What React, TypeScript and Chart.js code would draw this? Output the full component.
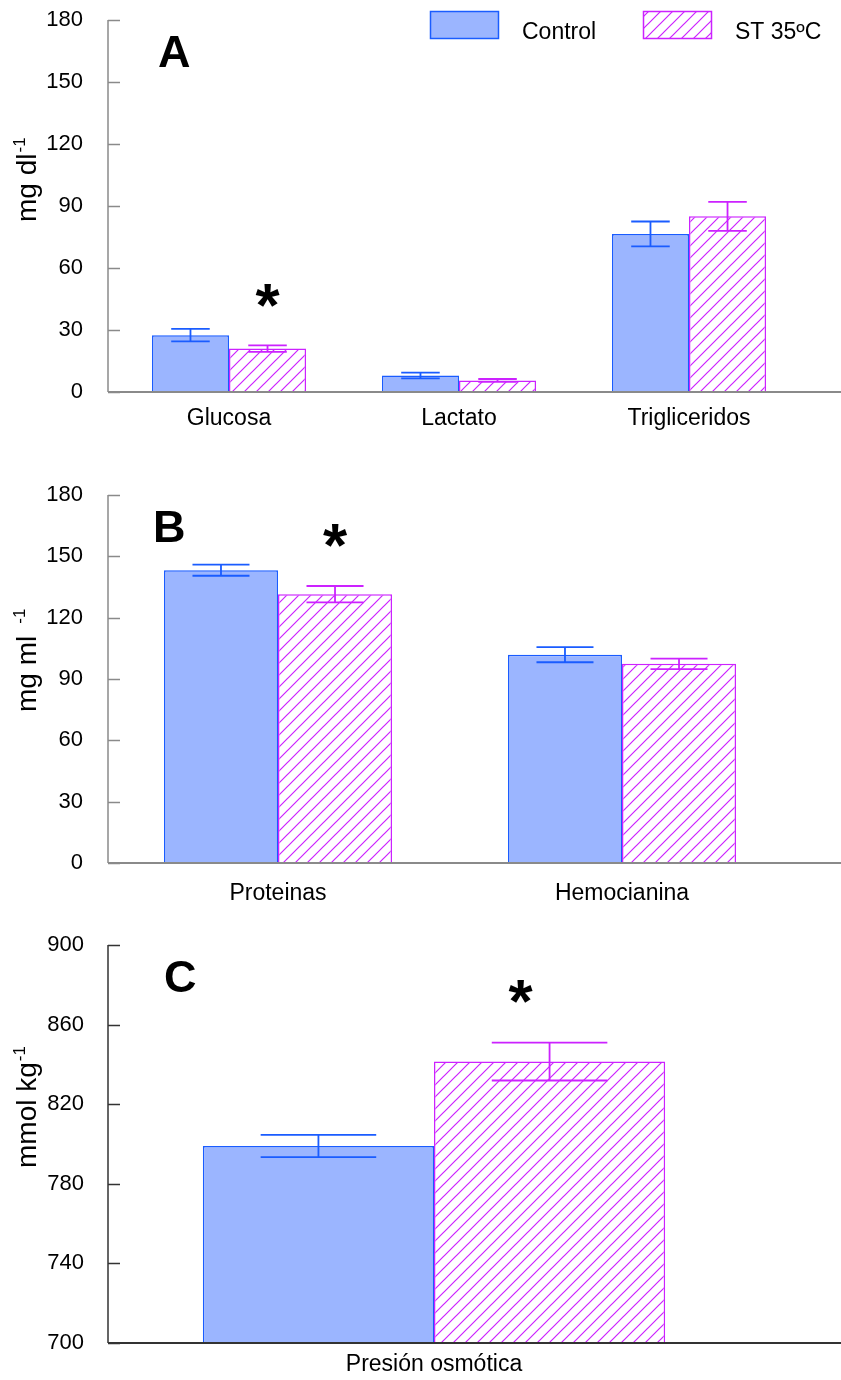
import React, { useEffect, useRef } from 'react';
import { Chart, registerables } from 'chart.js';
Chart.register(...registerables);

const FONT = "'Liberation Sans', Arial, Helvetica, sans-serif";
Chart.defaults.font.family = FONT;

// ---------- data ----------
const seriesNames = ['Control', 'ST 35ºC'];

const catsA = ['Glucosa', 'Lactato', 'Trigliceridos'];
const controlA = [27.5, 8.0, 76.5];
const controlErrA = [3.0, 1.4, 6.0];
const stA = [21.0, 5.6, 85.0];
const stErrA = [1.6, 0.7, 7.0];

const catsB = ['Proteinas', 'Hemocianina'];
const controlB = [143.2, 101.9];
const controlErrB = [2.7, 3.7];
const stB = [131.5, 97.4];
const stErrB = [4.0, 2.6];

const catsC = ['Presión osmótica'];
const controlC = [799.0];
const controlErrC = [5.6];
const stC = [841.4];
const stErrC = [9.5];

// ---------- styles ----------
const CTRL_FILL = '#9bb5ff';
const CTRL_LINE = '#1a5cff';
const ST_LINE = '#cc22ff';
const W = 841;

function makeHatch(): CanvasPattern | string {
  const s = 12;
  const c = document.createElement('canvas');
  c.width = s; c.height = s;
  const g = c.getContext('2d');
  if (!g) return '#fff';
  g.fillStyle = '#ffffff';
  g.fillRect(0, 0, s, s);
  g.strokeStyle = ST_LINE;
  g.lineWidth = 1.2;
  g.beginPath();
  g.moveTo(-1, s + 1); g.lineTo(s + 1, -1);
  g.moveTo(-2, 2); g.lineTo(2, -2);
  g.moveTo(s - 2, s + 2); g.lineTo(s + 2, s - 2);
  g.stroke();
  return g.createPattern(c, 'repeat') || '#fff';
}

interface PanelDef {
  top: number; h: number;
  cats: string[]; ctrl: number[]; ctrlErr: number[]; st: number[]; stErr: number[];
  yMin: number; yMax: number; yStep: number;
  plotLeft: number; plotRight: number; plotTop: number; plotBottom: number;
  axisX: number; axisColor: string; catPct: number;
  yPad: number; xPad: number;
  letter: string; letterX: number; letterY: number;
  star: { idx: number; value: number; dx: number };
  title: string; sup: string; titleX: number; titleY: number; supGap: number;
  legend: boolean;
}

const panels: PanelDef[] = [
  {
    top: 0, h: 450, cats: catsA, ctrl: controlA, ctrlErr: controlErrA, st: stA, stErr: stErrA,
    yMin: 0, yMax: 180, yStep: 30,
    plotLeft: 114, plotRight: 804, plotTop: 20, plotBottom: 392,
    axisX: 108, axisColor: '#8a8a8a', catPct: 0.67, yPad: 31, xPad: 13,
    letter: 'A', letterX: 158, letterY: 67,
    star: { idx: 0, value: 48.4, dx: 0 },
    title: 'mg dl', sup: '-1', titleX: 36, titleY: 222, supGap: 1,
    legend: true,
  },
  {
    top: 450, h: 470, cats: catsB, ctrl: controlB, ctrlErr: controlErrB, st: stB, stErr: stErrB,
    yMin: 0, yMax: 180, yStep: 30,
    plotLeft: 106, plotRight: 794, plotTop: 45, plotBottom: 413,
    axisX: 108, axisColor: '#8a8a8a', catPct: 0.663, yPad: 23, xPad: 17,
    letter: 'B', letterX: 153, letterY: 92,
    star: { idx: 0, value: 161.9, dx: 0 },
    title: 'mg ml', sup: '-1', titleX: 36, titleY: 262, supGap: 12,
    legend: false,
  },
  {
    top: 920, h: 460, cats: catsC, ctrl: controlC, ctrlErr: controlErrC, st: stC, stErr: stErrC,
    yMin: 700, yMax: 900, yStep: 40,
    plotLeft: 108, plotRight: 760, plotTop: 25, plotBottom: 423,
    axisX: 108, axisColor: '#333333', catPct: 0.709, yPad: 24, xPad: 8,
    letter: 'C', letterX: 164, letterY: 72,
    star: { idx: 0, value: 878.5, dx: -29 },
    title: 'mmol kg', sup: '-1', titleX: 36, titleY: 248, supGap: 1,
    legend: false,
  },
];

function decorPlugin(p: PanelDef, hatch: CanvasPattern | string) {
  return {
    id: 'decor' + p.letter,
    afterDatasetsDraw(chart: any) {
      const ctx: CanvasRenderingContext2D = chart.ctx;
      const ys = chart.scales.y;
      // error bars
      const errSets: [number[], string][] = [[p.ctrlErr, CTRL_LINE], [p.stErr, ST_LINE]];
      errSets.forEach(([errs, col], di) => {
        const meta = chart.getDatasetMeta(di);
        const vals = chart.data.datasets[di].data as number[];
        meta.data.forEach((el: any, j: number) => {
          const x = el.x;
          const half = el.width / 4;
          const yt = ys.getPixelForValue(vals[j] + errs[j]);
          const yb = ys.getPixelForValue(vals[j] - errs[j]);
          ctx.save();
          ctx.strokeStyle = col;
          ctx.lineWidth = 1.8;
          ctx.beginPath();
          ctx.moveTo(x, yb); ctx.lineTo(x, yt);
          ctx.moveTo(x - half, yt); ctx.lineTo(x + half, yt);
          ctx.moveTo(x - half, yb); ctx.lineTo(x + half, yb);
          ctx.stroke();
          ctx.restore();
        });
      });
      // axes
      ctx.save();
      ctx.strokeStyle = p.axisColor;
      ctx.lineWidth = 1.5;
      ctx.beginPath();
      ctx.moveTo(p.axisX, ys.top); ctx.lineTo(p.axisX, ys.bottom);
      ys.ticks.forEach((t: any) => {
        const y = Math.round(ys.getPixelForValue(t.value)) + 0.5;
        ctx.moveTo(p.axisX, y); ctx.lineTo(p.axisX + 12, y);
      });
      ctx.stroke();
      ctx.lineWidth = 2;
      ctx.beginPath();
      ctx.moveTo(p.axisX, ys.bottom); ctx.lineTo(chart.width, ys.bottom);
      ctx.stroke();
      ctx.restore();
      // panel letter
      ctx.save();
      ctx.fillStyle = '#000';
      ctx.font = `bold 45px ${FONT}`;
      ctx.textAlign = 'left';
      ctx.textBaseline = 'alphabetic';
      ctx.fillText(p.letter, p.letterX, p.letterY);
      // asterisk over the ST bar
      const stEl: any = chart.getDatasetMeta(1).data[p.star.idx];
      const sy = ys.getPixelForValue(p.star.value);
      ctx.font = `bold 62px ${FONT}`;
      ctx.textAlign = 'center';
      ctx.fillText('*', stEl.x + p.star.dx, sy + 34);
      // y title with superscript
      ctx.translate(p.titleX, p.titleY);
      ctx.rotate(-Math.PI / 2);
      ctx.textAlign = 'left';
      ctx.font = `28px ${FONT}`;
      ctx.fillText(p.title, 0, 0);
      const w = ctx.measureText(p.title).width;
      ctx.font = `17px ${FONT}`;
      ctx.fillText(p.sup, w + p.supGap, -11);
      ctx.restore();
      // legend
      if (p.legend) {
        ctx.save();
        ctx.lineWidth = 1.5;
        ctx.fillStyle = CTRL_FILL;
        ctx.fillRect(430, 11, 69, 28);
        ctx.strokeStyle = CTRL_LINE;
        ctx.strokeRect(430.5, 11.5, 68, 27);
        ctx.fillStyle = hatch as any;
        ctx.fillRect(643, 11, 69, 28);
        ctx.strokeStyle = ST_LINE;
        ctx.strokeRect(643.5, 11.5, 68, 27);
        ctx.fillStyle = '#000';
        ctx.font = `23px ${FONT}`;
        ctx.textAlign = 'left';
        ctx.textBaseline = 'alphabetic';
        ctx.fillText(seriesNames[0], 522, 39);
        ctx.fillText(seriesNames[1], 735, 39);
        ctx.restore();
      }
    },
  };
}

function PanelChart({ p }: { p: PanelDef }) {
  const ref = useRef<HTMLCanvasElement>(null);
  useEffect(() => {
    if (!ref.current) return;
    const hatch = makeHatch();
    const chart = new Chart(ref.current, {
      type: 'bar',
      data: {
        labels: p.cats,
        datasets: [
          {
            label: seriesNames[0], data: p.ctrl, backgroundColor: CTRL_FILL, borderColor: CTRL_LINE,
            borderWidth: 1.5, barPercentage: 1, categoryPercentage: p.catPct,
          },
          {
            label: seriesNames[1], data: p.st, backgroundColor: hatch as any, borderColor: ST_LINE,
            borderWidth: 1.5, barPercentage: 1, categoryPercentage: p.catPct,
          },
        ],
      },
      options: {
        responsive: false,
        animation: false,
        events: [],
        layout: { padding: { left: 0, right: W - p.plotRight, top: p.plotTop, bottom: 0 } },
        plugins: { legend: { display: false }, tooltip: { enabled: false } },
        scales: {
          x: {
            grid: { display: false, drawTicks: false },
            border: { display: false },
            ticks: { color: '#000', font: { family: FONT, size: 23 }, padding: p.xPad, maxRotation: 0, autoSkip: false },
            afterFit: (s: any) => { s.height = p.h - p.plotBottom; s.paddingLeft = 0; s.paddingRight = 0; },
          },
          y: {
            min: p.yMin, max: p.yMax,
            grid: { display: false, drawTicks: false },
            border: { display: false },
            ticks: { stepSize: p.yStep, color: '#000', font: { family: FONT, size: 22 }, padding: p.yPad },
            afterFit: (s: any) => { s.width = p.plotLeft; s.paddingTop = 0; s.paddingBottom = 0; },
          },
        },
      } as any,
      plugins: [decorPlugin(p, hatch)],
    });
    return () => chart.destroy();
  }, [p]);
  return (
    <canvas
      ref={ref}
      width={W}
      height={p.h}
      style={{ position: 'absolute', left: 0, top: p.top, width: W, height: p.h, display: 'block' }}
    />
  );
}

export default function App() {
  return (
    <div style={{ position: 'absolute', left: 0, top: 0, width: W, height: 1380, background: '#fff', overflow: 'hidden' }}>
      {panels.map((p) => (
        <PanelChart key={p.letter} p={p} />
      ))}
    </div>
  );
}
